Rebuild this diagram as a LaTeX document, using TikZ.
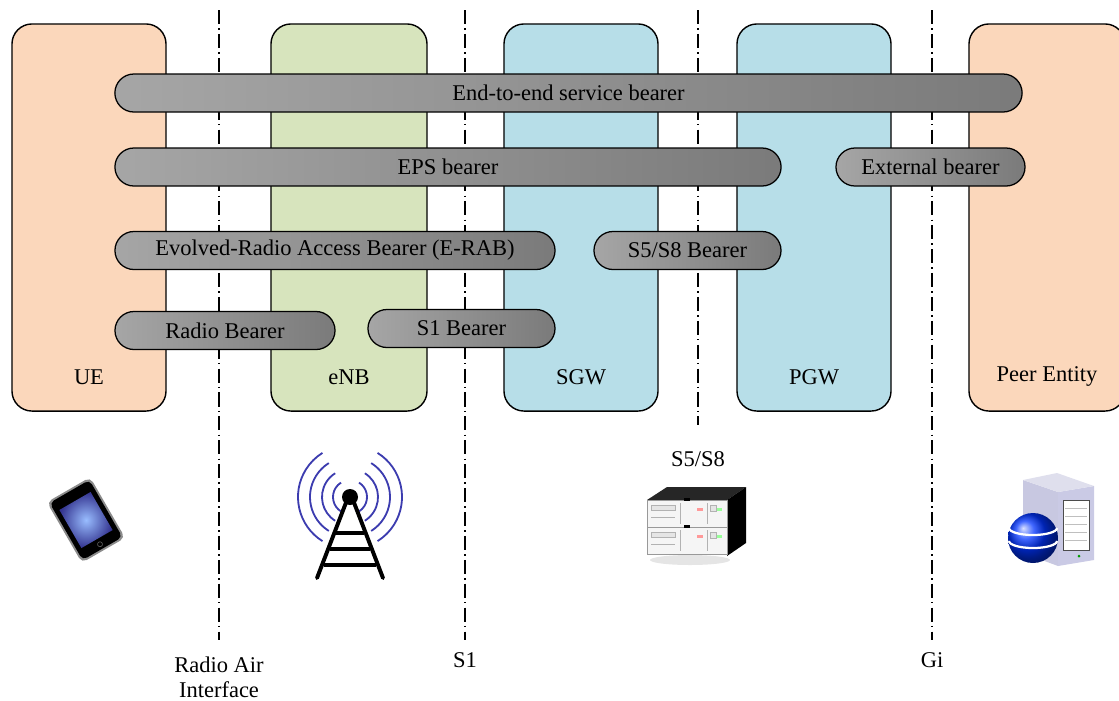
\documentclass[tikz,border=0pt]{standalone}
\usepackage{fontspec}
\setmainfont{Liberation Serif}
\usetikzlibrary{shapes.misc,positioning,calc}
\definecolor{uepeach}{RGB}{251,215,187}
\definecolor{enbgreen}{RGB}{215,228,189}
\definecolor{gwblue}{RGB}{183,222,232}
\definecolor{wavblue}{RGB}{60,60,175}
\definecolor{towerlav}{RGB}{190,190,220}

\tikzset{
  entity/.style={draw, line width=1pt, rounded corners=0.5cm, minimum height=9.675cm},
  entlabel/.style={font=\fontsize{16}{18}\selectfont},
  bearer/.style={rounded rectangle, draw, line width=0.9pt, minimum height=0.95cm,
    inner sep=0pt, left color=black!35, right color=black!52, font=\fontsize{16}{18}\selectfont},
  iface/.style={line width=1pt, dash pattern=on 10pt off 3pt on 1pt off 3pt},
  ifacelabel/.style={font=\fontsize{16}{18}\selectfont, align=center}
}

\begin{document}
\begin{tikzpicture}[x=0.025cm, y=-0.025cm]
    \clip (0,0) rectangle (1119,700);

    % Interfaces
    \coordinate (air-top) at (219,10);   \coordinate (air-bot) at (219,640);
    \coordinate (s1-top) at (465,10);    \coordinate (s1-bot) at (465,640);
    \coordinate (s5-top) at (698,10);    \coordinate (s5-bot) at (698,425);
    \coordinate (gi-top) at (932,10);    \coordinate (gi-bot) at (932,640);
    \draw[iface] (air-top) -- (air-bot);
    \draw[iface] (s1-top) -- (s1-bot);
    \draw[iface] (s5-top) -- (s5-bot);
    \draw[iface] (gi-top) -- (gi-bot);

    % Blocks
    \node[entity, fill=uepeach, minimum width=3.85cm] (ue) at (89,217.5) {};
    \node[entity, fill=enbgreen, minimum width=3.9cm] (enb) at (349,217.5) {};
    \node[entity, fill=gwblue, minimum width=3.85cm] (sgw) at (581,217.5) {};
    \node[entity, fill=gwblue, minimum width=3.85cm] (pgw) at (814,217.5) {};
    \node[entity, fill=uepeach, minimum width=3.9cm] (peer) at (1047,217.5) {};

    \node[entlabel] (ue-name) at ([yshift=0.875cm]ue.south) {UE};
    \node[entlabel] (enb-name) at ([yshift=0.875cm]enb.south) {eNB};
    \node[entlabel] (sgw-name) at ([yshift=0.875cm]sgw.south) {SGW};
    \node[entlabel] (pgw-name) at ([yshift=0.875cm]pgw.south) {PGW};
    \node[entlabel] (peer-name) at ([yshift=0.875cm]peer.south) {Peer Entity};

    % Bearers
    \node[bearer, minimum width=22.675cm] (e2e) at (568.5,93) {End-to-end service bearer};
    \node[bearer, minimum width=16.65cm] (eps) at (448,167) {EPS bearer};
    \node[bearer, minimum width=4.725cm] (ext) at (930.5,167) {External bearer};
    \node[bearer, minimum width=11cm] (erab) at (335,250.5) {Evolved-Radio Access Bearer (E-RAB)};
    \node[bearer, minimum width=4.675cm] (s5b) at (687.5,250.5) {S5/S8 Bearer};
    \node[bearer, minimum width=5.5cm] (radio) at (225,330.5) {Radio Bearer};
    \node[bearer, minimum width=4.675cm] (s1b) at (461.5,328.5) {S1 Bearer};

    % Labels
    \node[ifacelabel] (air-name) at (219,677) {Radio Air\\Interface};
    \node[ifacelabel] (s1-name) at (465,660) {S1};
    \node[ifacelabel] (s5-name) at (698,459) {S5/S8};
    \node[ifacelabel] (gi-name) at (932,660) {Gi};

    % Handset
    \begin{scope}[shift={(86,520)}, rotate=30]
        \fill[black!45, rounded corners=4pt] (-25,-35) rectangle (25,35);
        \fill[black, rounded corners=3.5pt] (-23,-33) rectangle (23,33);
        \shade[inner color=cyan!35!blue!40, outer color=blue!45!black!80] (-18,-22) rectangle (18,22);
        \draw[black!60, line width=0.4pt] (0,28) circle[radius=2.5];
    \end{scope}

    % Radio mast
    \foreach \r in {17,28,40,52} {
        \draw[wavblue, line width=1.3pt] (350,497) ++(-58:\r) arc[start angle=-58, end angle=58, radius=\r];
        \draw[wavblue, line width=1.3pt] (350,497) ++(122:\r) arc[start angle=122, end angle=238, radius=\r];
    }
    \draw[line width=2.8pt, line cap=round] (347,500) -- (317,578);
    \draw[line width=2.8pt, line cap=round] (353,500) -- (383,578);
    \draw[line width=2.4pt] (336,533) -- (364,533);
    \draw[line width=2.4pt] (330,549) -- (370,549);
    \draw[line width=2.4pt] (324,565) -- (376,565);
    \fill (350,497) circle[radius=8];

    % Server stack
    \fill[black!20, opacity=0.5] (690,560) ellipse[x radius=40, y radius=5];
    \fill[black!85] (647,500) -- (667,487) -- (746,487) -- (727,500) -- cycle;
    \fill[black] (727,500) -- (746,487) -- (746,543) -- (727,556) -- cycle;
    \foreach \y in {500,527} {
        \draw[black!40, fill=black!4] (647,\y) rectangle (727,\y+27);
        \draw[black!30, fill=black!10] (651,\y+5) rectangle (675,\y+10);
        \draw[black!30] (651,\y+17) -- (675,\y+17);
        \draw[black!30] (680,\y+3) -- (680,\y+24);
        \draw[black!30] (707,\y+3) -- (707,\y+24);
        \fill[red!40] (697,\y+8) rectangle (703,\y+11);
        \fill[green!40] (716,\y+8) rectangle (722,\y+11);
        \draw[black!30, fill=black!10] (710,\y+5) rectangle (716,\y+11);
        \fill[black] (684,\y-2) rectangle (690,\y+1);
    }

    % Peer host
    \fill[towerlav!85!white] (1023,480) -- (1058,492) -- (1058,566) -- (1023,553) -- cycle;
    \fill[towerlav!60!black!70!blue!30!white] (1058,492) -- (1094,486) -- (1094,560) -- (1058,566) -- cycle;
    \fill[towerlav!50!white] (1023,480) -- (1057,473) -- (1094,486) -- (1058,492) -- cycle;
    \draw[black!70, fill=white, line width=0.6pt] (1063,500) rectangle (1089,550);
    \foreach \y in {508,516,524,532,540}
        \draw[black!25] (1065,\y) -- (1087,\y);
    \fill[green!60!black] (1079,556) circle[radius=1.5];
    \shade[ball color=blue!80!cyan] (1033,538) circle[radius=25];
    \draw[white, line width=1.6pt] (1009,528) arc[start angle=180, end angle=360, x radius=24, y radius=-7];
    \draw[white, line width=1.6pt] (1009,541) arc[start angle=180, end angle=360, x radius=24, y radius=-7];
\end{tikzpicture}
\end{document}
